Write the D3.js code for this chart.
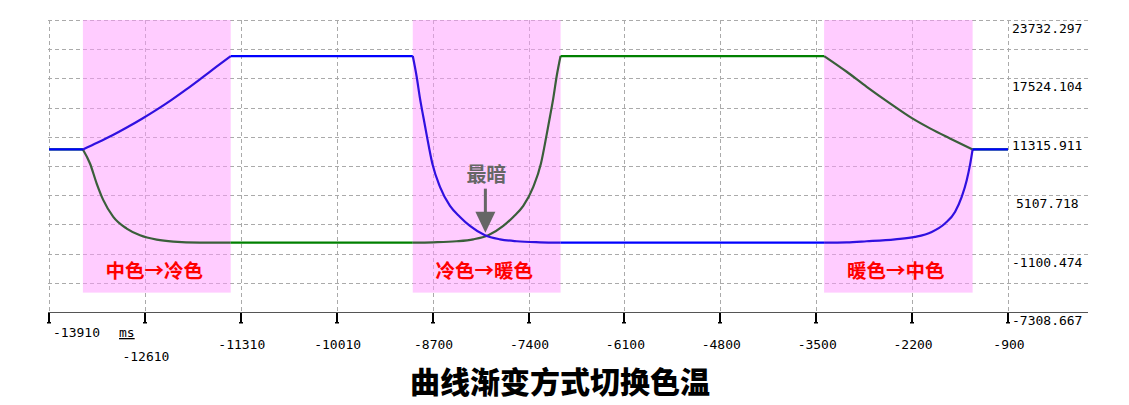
<!DOCTYPE html>
<html><head><meta charset="utf-8">
<script src="https://cdn.jsdelivr.net/npm/d3@7"></script>
<style>body{margin:0;background:#fff}svg{display:block}</style>
</head><body>
<svg id="c" width="1129" height="405"></svg>
<script>
// ---- data ----
const xTickValues = [-13910,-12609,-11308,-10007,-8706,-7405,-6104,-4803,-3502,-2201,-900];
const xTickLabels = ["-13910","-12610","-11310","-10010","-8700","-7400","-6100","-4800","-3500","-2200","-900"];
const yTickValues = [-7308.667,-1100.474,5107.718,11315.911,17524.104,23732.297];
const yTickLabels = ["-7308.667","-1100.474","5107.718","11315.911","17524.104","23732.297"];
const bandStarts = [-13450,-8975,-3395];
const bandEnds = [-11445,-6970,-1380];
const bandLabels = ["中色→冷色","冷色→暖色","暖色→中色"];
const bandLow = -5250, bandHigh = 23732.297;
const blueT = [-13910,-13450,-13250,-13049,-12849,-12648,-12448,-12247,-12047,-11846,-11646,-11445,-8975,-8922,-8877,-8832,-8786,-8710,-8606,-8470,-8334,-8199,-7995,-7792,-7565,-7249,-6970,-3395,-3088,-2817,-2433,-2162,-1935,-1755,-1619,-1528,-1460,-1416,-1380,-900];
const blueV = [9970,9970,10700,11480,12330,13240,14210,15250,16360,17530,18720,19900,19900,17700,15400,13440,11490,8480,5990,3970,2800,1840,850,420,210,100,60,60,90,210,420,670,1200,2100,3330,4930,6700,8300,9970,9970];
const greenT = [-13910,-13450,-13354,-13263,-13173,-13038,-12856,-12675,-12449,-12224,-11862,-11445,-8975,-8697,-8381,-8154,-7951,-7747,-7612,-7476,-7340,-7236,-7160,-7114,-7069,-7024,-6970,-3395,-3088,-2817,-2501,-2198,-1958,-1687,-1380,-900];
const greenV = [9970,9970,8480,6350,4580,2800,1560,850,390,180,70,60,60,100,210,420,850,1840,2800,3970,5990,8480,11490,13440,15400,17700,19900,19900,18230,16630,14870,13270,12210,11140,9970,9970];
const annotT = -7990, annotV = 700, annotText = "最暗";
const unitText = "ms";
const titleText = "曲线渐变方式切换色温";

// ---- chart ----
const svg = d3.select("#c");
const x = d3.scaleLinear().domain([-13910,-900]).range([49,1008]);
const y = d3.scaleLinear().domain([-7308.667,23732.297]).range([312,20]);
const gridRight = 1088;
const mono = "'DejaVu Sans Mono', monospace";
const cjk = "'Noto Sans CJK SC','Noto Sans CJK JP',sans-serif";

// gridlines (major + midpoints)
const gridVals = [];
yTickValues.forEach((v,i)=>{ gridVals.push(v); if(i<yTickValues.length-1) gridVals.push((v+yTickValues[i+1])/2); });
svg.append("g").selectAll("line").data(gridVals.filter(v=>v!==yTickValues[0])).join("line")
  .attr("x1",48).attr("x2",gridRight)
  .attr("y1",d=>Math.round(y(d))+0.5).attr("y2",d=>Math.round(y(d))+0.5)
  .attr("stroke","#aaaaaa").attr("stroke-dasharray","4,3");
svg.append("g").selectAll("line").data(xTickValues).join("line")
  .attr("x1",d=>Math.round(x(d))+0.5).attr("x2",d=>Math.round(x(d))+0.5)
  .attr("y1",y(yTickValues[5])).attr("y2",y(yTickValues[0]))
  .attr("stroke","#aaaaaa").attr("stroke-dasharray","4,3");

// bands
svg.append("g").selectAll("rect").data(bandStarts).join("rect")
  .attr("x",(d)=>x(d)).attr("width",(d,i)=>x(bandEnds[i])-x(d))
  .attr("y",y(bandHigh)).attr("height",y(bandLow)-y(bandHigh))
  .attr("fill","#ff99ff").attr("fill-opacity",0.5);

// split a series into pieces at band edges so corners stay sharp
const edges = new Set(bandStarts.concat(bandEnds));
function pieces(T,V){
  const out=[]; let cur=[];
  T.forEach((t,i)=>{
    cur.push([t,V[i]]);
    if(edges.has(t) && cur.length>1){ out.push(cur); cur=[[t,V[i]]]; }
  });
  if(cur.length>1) out.push(cur);
  return out;
}
const inBand = p => bandStarts.some((s,i)=>p[0][0]>=s && p[p.length-1][0]<=bandEnds[i]);
const line = d3.line().x(d=>x(d[0])).y(d=>y(d[1])).curve(d3.curveMonotoneX);
function drawSeries(T,V, base, bandColor){
  const g = svg.append("g");
  pieces(T,V).forEach(p=>{
    g.append("path").attr("d",line(p)).attr("fill","none")
      .attr("stroke", inBand(p) ? bandColor : base).attr("stroke-width",2.2)
      .attr("stroke-linejoin","round");
  });
}
drawSeries(greenT,greenV,"#008000","#3a5e3a");
drawSeries(blueT,blueV,"#0000ff","#3010e0");

// axis line
svg.append("line").attr("x1",48).attr("x2",gridRight).attr("y1",312.5).attr("y2",312.5)
  .attr("stroke","#555").attr("stroke-width",1);
// ticks
const tk = svg.append("g").selectAll("g").data(xTickValues).join("g")
  .attr("transform",d=>`translate(${Math.round(x(d))},0)`);
tk.append("rect").attr("x",-1).attr("y",313).attr("width",2).attr("height",10).attr("fill","#000");
tk.append("rect").attr("x",-2).attr("y",322).attr("width",4).attr("height",1.5).attr("fill","#000");
// x tick labels
svg.append("g").selectAll("text").data(xTickValues).join("text")
  .attr("x",(d,i)=> i===0 ? x(d)+4 : x(d)+1)
  .attr("y",(d,i)=> i===0 ? 337 : (i===1 ? 361 : 349))
  .attr("text-anchor",(d,i)=> i===0 ? "start" : "middle")
  .attr("font-family",mono).attr("font-size",13).attr("fill","#000")
  .text((d,i)=>xTickLabels[i]);
svg.append("text").attr("x",119).attr("y",337).attr("font-family",mono).attr("font-size",13)
  .attr("text-decoration","underline").attr("fill","#000").text(unitText);
// y tick labels
svg.append("g").selectAll("text").data(yTickValues).join("text")
  .attr("x",(d,i)=> yTickLabels[i].length<9 ? 1016 : 1012)
  .attr("y",d=>y(d)+13)
  .attr("font-family",mono).attr("font-size",13).attr("fill","#000")
  .text((d,i)=>yTickLabels[i]);

// band labels
svg.append("g").selectAll("text").data(bandStarts).join("text")
  .attr("x",(d,i)=>(x(d)+x(bandEnds[i]))/2-2.5)
  .attr("y",278)
  .attr("text-anchor","middle").attr("font-family",cjk).attr("font-weight",700)
  .attr("font-size",19.5).attr("fill","#ff0000")
  .text((d,i)=>bandLabels[i]);

// annotation
const ax = x(annotT), ay = y(annotV);
svg.append("text").attr("x",ax+1).attr("y",ay-55).attr("text-anchor","middle")
  .attr("font-family",cjk).attr("font-weight",700).attr("font-size",20).attr("fill","#666")
  .text(annotText);
svg.append("rect").attr("x",ax-1.5).attr("y",ay-48).attr("width",3).attr("height",26).attr("fill","#666");
svg.append("path").attr("d",`M${ax-10},${ay-25}L${ax+10},${ay-25}L${ax},${ay-4}Z`).attr("fill","#666");

// title
svg.append("text").attr("x",560).attr("y",393).attr("text-anchor","middle")
  .attr("font-family",cjk).attr("font-weight",900).attr("font-size",30).attr("fill","#000")
  .text(titleText);
</script>
</body></html>
